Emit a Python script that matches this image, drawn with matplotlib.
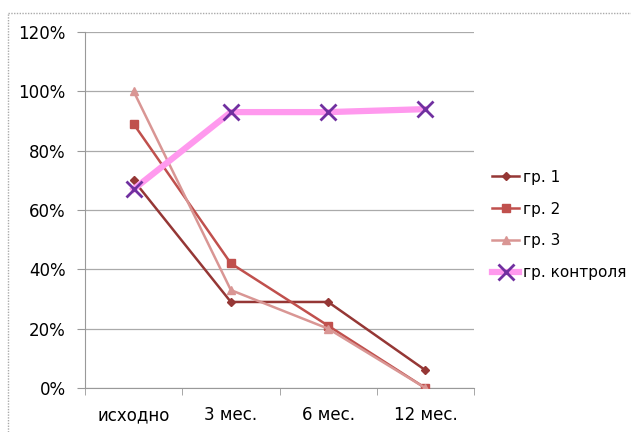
import matplotlib
matplotlib.use("Agg")
import matplotlib.pyplot as plt
from matplotlib.lines import Line2D

categories = ["исходно", "3 мес.", "6 мес.", "12 мес."]
gr1 = [70, 29, 29, 6]
gr2 = [89, 42, 21, 0]
gr3 = [100, 33, 20, 0]
control = [67, 93, 93, 94]
yticks = [0, 20, 40, 60, 80, 100, 120]

fig = plt.figure(figsize=(6.31, 4.32), dpi=100)
# outer chart frame (only top and left edges are visible in the image)
fig.lines.append(Line2D([8/631, 1], [1 - 13/432, 1 - 13/432], transform=fig.transFigure,
                        color="#AAAAAA", linewidth=1, linestyle=(0, (1, 1))))
fig.lines.append(Line2D([8/631, 8/631], [0, 1 - 13/432], transform=fig.transFigure,
                        color="#AAAAAA", linewidth=1, linestyle=(0, (1, 1))))
ax = fig.add_axes([85/631, 1 - 388/432, (474 - 85)/631, (388 - 32)/432])

x = list(range(len(categories)))
ax.plot(x, gr1, color="#953735", marker="D", markersize=4, linewidth=1.8, label="гр. 1", zorder=3)
ax.plot(x, gr2, color="#C0504D", marker="s", markersize=6, linewidth=1.8, label="гр. 2", zorder=3)
ax.plot(x, gr3, color="#D99694", marker="^", markersize=6, linewidth=1.8, label="гр. 3", zorder=3)
ax.plot(x, control, color="#FF99EE", linewidth=4.5, marker="x", markersize=11,
        markeredgecolor="#7030A0", markeredgewidth=2, label="гр. контроля", zorder=4)

ax.set_xlim(-0.5, 3.5)
ax.set_ylim(0, 120)
ax.set_yticks(yticks)
ax.set_yticklabels([f"{v}%" for v in yticks])
ax.set_xticks(x)
ax.set_xticklabels(categories)
ax.set_xticks([-0.5, 0.5, 1.5, 2.5, 3.5], minor=True)
ax.tick_params(axis="x", which="major", length=0, pad=13, labelsize=12)
ax.tick_params(axis="x", which="minor", length=5, color="#999999")
ax.tick_params(axis="y", length=6, color="#999999", labelsize=12, pad=8)
ax.grid(axis="y", color="#AAAAAA", linewidth=0.9)
ax.set_axisbelow(True)
for s in ["top", "right"]:
    ax.spines[s].set_visible(False)
ax.spines["left"].set_color("#999999")
ax.spines["bottom"].set_color("#999999")

ax.legend(loc="center left", bbox_to_anchor=(1.03, 0.458), frameon=False, fontsize=11,
          handlelength=1.8, handletextpad=0.25, labelspacing=1.1, borderaxespad=0)

fig.savefig("out.png", dpi=100)
